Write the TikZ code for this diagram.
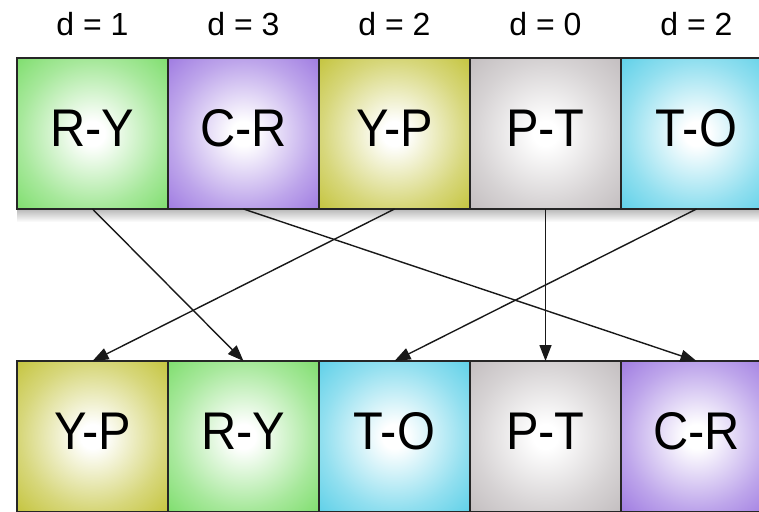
\documentclass[tikz,border=0pt]{standalone}
\usepackage{fontspec}
\setmainfont{Liberation Sans}
\newfontfamily\cellfont[FakeStretch=0.92]{Liberation Sans}
\usepackage{tikz}
\usetikzlibrary{arrows.meta}
\usetikzlibrary{positioning}

\definecolor{rygreen}{RGB}{104,216,84}
\definecolor{crpurple}{RGB}{142,100,220}
\definecolor{ypolive}{RGB}{186,186,28}
\definecolor{ptgrey}{RGB}{184,178,180}
\definecolor{tocyan}{RGB}{66,200,228}

% white middle, colour towards the edges
\newcommand{\glowshading}[1]{%
    \pgfdeclareradialshading{glow#1}{\pgfpoint{0bp}{0bp}}{color(0bp)=(white); color(4bp)=(white); color(24bp)=(#1!58!white); color(42bp)=(#1); color(50bp)=(#1)}}
\glowshading{rygreen}
\glowshading{crpurple}
\glowshading{ypolive}
\glowshading{ptgrey}
\glowshading{tocyan}

\tikzset{
    cell/.style={shading=glow#1,
        draw=black!85, line width=1.3pt, minimum width=151pt, minimum height=151pt,
        inner sep=0pt, outer sep=0pt, text height=38pt, text depth=12pt,
        font=\cellfont\fontsize{53}{60}\selectfont},
    dist/.style={anchor=base, font=\fontsize{32}{36}\selectfont},
    move/.style={line width=1.4pt, black!90, -{Triangle[length=16pt, width=12pt]}}
}

\begin{document}
\begin{tikzpicture}[x=1pt, y=-1pt]
    \useasboundingbox (0,0) rectangle (759,511);
    \clip (0,0) rectangle (759,511);
    % shadow under the upper row
    \shade[top color=black!28, bottom color=white] (17,209) rectangle (772,222);
    \foreach \lab/\col/\d [count=\i] in {R-Y/rygreen/1, C-R/crpurple/3, Y-P/ypolive/2, P-T/ptgrey/0, T-O/tocyan/2} {
        \node[cell=\col] (top\i) at ({17+151*(\i-0.5)},133.5) {\lab};
        \node[dist] (dist\i) at ({17+151*(\i-0.5)},36) {d = \d};
    }
    \foreach \lab/\col [count=\i] in {Y-P/ypolive, R-Y/rygreen, T-O/tocyan, P-T/ptgrey, C-R/crpurple} {
        \node[cell=\col] (bot\i) at ({17+151*(\i-0.5)},436.5) {\lab};
    }
    \draw[move] (top1.south) -- (bot2.north);
    \draw[move] (top2.south) -- (bot5.north);
    \draw[move] (top3.south) -- (bot1.north);
    \draw[move] (top4.south) -- (bot4.north);
    \draw[move] (top5.south) -- (bot3.north);
\end{tikzpicture}
\end{document}
